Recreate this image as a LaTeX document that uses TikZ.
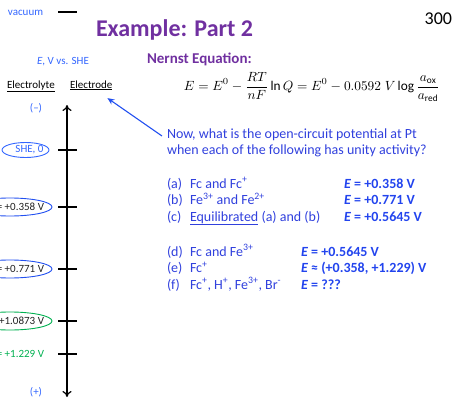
\documentclass[tikz,border=0pt]{standalone}
\usepackage{fontspec}
\usepackage{graphicx}
\setmainfont{Carlito}
\usetikzlibrary{arrows.meta,shapes.geometric}
\definecolor{purp}{HTML}{7030A0}
\definecolor{lblue}{HTML}{3366FF}
\definecolor{eblue}{HTML}{2250F0}
\definecolor{qblue}{HTML}{3040DD}
\definecolor{ablue}{HTML}{2244EE}
\definecolor{egreen}{HTML}{00B050}
\definecolor{dtext}{HTML}{222222}
\tikzset{
  small/.style={font=\fontsize{11}{13}\selectfont},
  body/.style={font=\fontsize{14}{16.8}\selectfont, text=qblue, anchor=base west},
  ans/.style={font=\fontsize{14}{16.8}\selectfont\bfseries, text=ablue, anchor=base west},
  tickline/.style={line width=2pt, black},
  axisline/.style={line width=2pt, black, {To[length=6pt,width=9pt,line width=1.2pt]}-{To[length=6pt,width=9pt,line width=1.2pt]}},
  potell/.style={ellipse, draw, line width=0.9pt, minimum width=84pt, minimum height=18pt},
  pottext/.style={small, anchor=east, text=dtext},
}
\begin{document}
\begin{tikzpicture}[x=1pt,y=-1pt, every node/.style={inner sep=0pt,outer sep=0pt}]
\useasboundingbox (0,0) rectangle (453,399);
\clip (0,0) rectangle (453,399);
% header
\node[anchor=base west, font=\fontsize{24}{28}\selectfont\bfseries, text=purp] (title) at (96,36) {Example: Part 2};
\node[anchor=base east, font=\fontsize{18}{20}\selectfont] (pagenum) at (452,24) {300};
\node[anchor=base west, font=\fontsize{15}{18}\selectfont\bfseries, text=purp] (nernst) at (147,63) {Nernst Equation:};
\node (eq) at (312,87) {\resizebox{256pt}{!}{$\displaystyle E = E^0 - \frac{RT}{nF}\ln Q = E^0 - 0.0592\;V\log\frac{a_{\mathrm{ox}}}{a_{\mathrm{red}}}$}};
% left scale
\node[small, anchor=west, text=lblue] (vac) at (8,13) {vacuum};
\coordinate (vacL) at (58,12);
\coordinate (vacR) at (77,12);
\draw[line width=2pt] (vacL) -- (vacR);
\node[small, anchor=west, text=lblue] (evs) at (37,62) {\textit{E}, V vs. SHE};
\node[small, anchor=base west] (electrolyte) at (7,88) {\underline{Electrolyte}};
\node[small, anchor=base west] (electrode) at (70,88) {\underline{Electrode}};
\node[small, text=lblue] (minus) at (36,108) {(–)};
\node[small, text=lblue] (plus) at (36,392) {(+)};
\coordinate (axtop) at (67,105);
\coordinate (axbot) at (67,397);
\draw[axisline] (axtop) -- (axbot);
\foreach \yy in {150,207,269,321,354} \draw[tickline] (58,\yy) -- (77,\yy);
% SHE
\node[ellipse, draw=lblue, line width=0.9pt, minimum width=47pt, minimum height=15pt] (sheell) at (25.5,150) {};
\node[small, text=lblue] (she) at (29.5,150) {SHE, 0};
% potentials
\node[potell, draw=eblue] (e358ell) at (10,207) {};
\node[pottext] (e358) at (44,207) {\textit{E} = +0.358 V};
\node[potell, draw=eblue] (e771ell) at (10,269) {};
\node[pottext] (e771) at (44,269) {\textit{E} = +0.771 V};
\node[potell, draw=egreen] (e1087ell) at (10,321) {};
\node[pottext] (e1087) at (44,321) {\textit{E} = +1.0873 V};
\node[pottext, text=egreen] (e1229) at (44,354) {\textit{E} = +1.229 V};
% question
\node[body] (q1) at (167,138) {Now, what is the open-circuit potential at Pt};
\node[body] (q2) at (167,154.5) {when each of the following has unity activity?};
\coordinate (arrtail) at (162,136);
\coordinate (arrtip) at ([shift={(-5,8)}]electrode.south east);
\draw[eblue, line width=1.1pt, -{Stealth[length=7pt,width=6pt]}] (arrtail) -- (arrtip);
% list
\node[body] (la) at (167,188) {(a)};
\node[body] (ta) at (190,188) {Fc and Fc\textsuperscript{+}};
\node[ans] (aa) at (344,188) {\textit{E} = +0.358 V};
\node[body] (lb) at (167,204.5) {(b)};
\node[body] (tb) at (190,204.5) {Fe\textsuperscript{3+} and Fe\textsuperscript{2+}};
\node[ans] (ab) at (344,204.5) {\textit{E} = +0.771 V};
\node[body] (lc) at (167,221) {(c)};
\node[body] (tc) at (190,221) {\underline{Equilibrated} (a) and (b)};
\node[ans] (ac) at (344,221) {\textit{E} = +0.5645 V};
\node[body] (ld) at (167,256) {(d)};
\node[body] (td) at (190,256) {Fc and Fe\textsuperscript{3+}};
\node[ans] (ad) at (301,256) {\textit{E} = +0.5645 V};
\node[body] (le) at (167,272.5) {(e)};
\node[body] (te) at (190,272.5) {Fc\textsuperscript{+}};
\node[ans] (ae) at (301,272.5) {\textit{E} ≈ (+0.358, +1.229) V};
\node[body] (lf) at (167,289) {(f)};
\node[body] (tf) at (190,289) {Fc\textsuperscript{+}, H\textsuperscript{+}, Fe\textsuperscript{3+}, Br\textsuperscript{-}};
\node[ans] (af) at (301,289) {\textit{E} = ???};
\end{tikzpicture}
\end{document}
